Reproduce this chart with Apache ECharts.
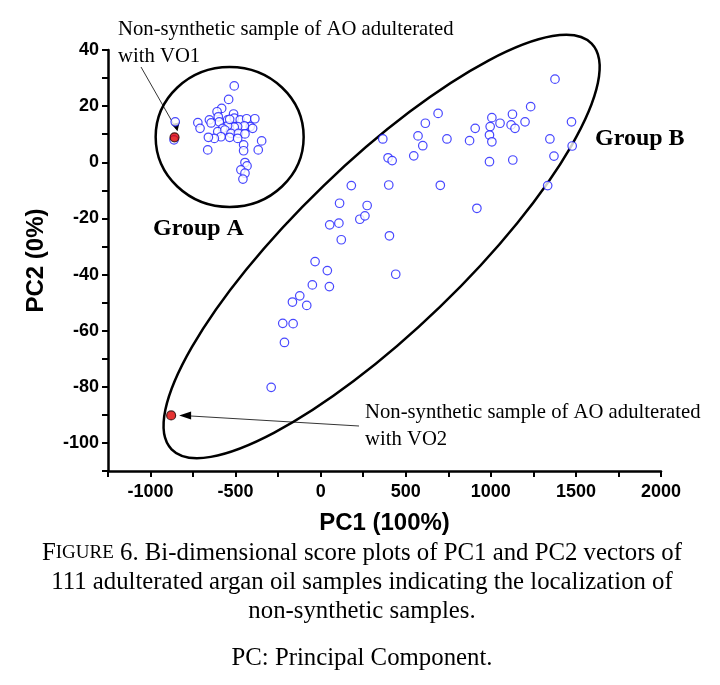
<!DOCTYPE html>
<html><head><meta charset="utf-8">
<script src="https://cdn.jsdelivr.net/npm/echarts@6/dist/echarts.min.js"></script>
<style>html,body{margin:0;padding:0;background:#fff}#c{width:720px;height:685px}</style>
</head><body><div id="c"></div>
<script>
const groupA = [[-855,14.4],[-508,27.2],[-541,22.4],[-582,19.2],[-609,18.0],[-722,14.1],[-709,12.1],[-654,15.1],[-602,16.2],[-596,14.4],[-547,15.1],[-512,17.2],[-508,15.7],[-473,15.1],[-435,15.5],[-387,15.5],[-414,12.7],[-400,12.1],[-449,13.0],[-488,12.7],[-508,12.5],[-547,13.0],[-576,12.1],[-605,10.9],[-563,11.5],[-527,10.3],[-484,10.3],[-445,10.1],[-535,8.9],[-586,9.1],[-625,8.5],[-660,8.9],[-664,4.4],[-488,8.5],[-453,6.2],[-453,4.1],[-347,7.6],[-367,4.4],[-445,-0.1],[-433,-1.3],[-469,-2.7],[-445,-3.9],[-457,-6.0],[-535,15.3],[-644,14.0],[-862,8.0]];
const groupB = [[1377,29.6],[1234,19.8],[1127,17.1],[1006,15.9],[1054,13.9],[1201,14.4],[1119,13.3],[1142,12.1],[996,12.7],[908,12.1],[992,9.7],[1006,7.3],[875,7.7],[742,8.3],[690,17.4],[615,13.9],[572,9.4],[600,5.9],[547,2.3],[365,8.3],[396,1.6],[420,0.6],[1474,14.4],[1347,8.3],[1478,5.8],[1371,2.2],[1129,0.8],[992,0.2],[1334,-8.3],[703,-8.2],[400,-8.1],[180,-8.3],[918,-16.4],[111,-14.6],[273,-15.4],[230,-20.3],[260,-19.1],[107,-21.7],[53,-22.3],[121,-27.6],[404,-26.2],[441,-39.9],[-33,-35.4],[39,-38.6],[-49,-43.7],[51,-44.3],[-123,-47.6],[-166,-49.8],[-82,-51.0],[-223,-57.4],[-162,-57.5],[-213,-64.2],[-291,-80.2]];
const vo1 = [[-859,8.9]];
const vo2 = [[-879,-90.2]];
const xTicks = [-1000,-500,0,500,1000,1500,2000];
const yTicks = [40,20,0,-20,-40,-60,-80,-100];
const ellA = {cx:-535, cy:9};
const ellB = {cx:358, cy:-30};

const serif = '"Liberation Serif","DejaVu Serif",serif';
const sans = '"Liberation Sans",Arial,sans-serif';
const chart = echarts.init(document.getElementById('c'));
const blue = {type:'scatter', symbol:'circle', symbolSize:8.5, itemStyle:{color:'#fff', borderColor:'#1a1aff', borderWidth:1.2}, z:3};
chart.setOption({
  animation:false,
  grid:{left:108, right:59, top:50, bottom:214},
  xAxis:{type:'value', min:-1250, max:2000, interval:250,
    axisLine:{onZero:false, lineStyle:{color:'#000', width:2.5}},
    axisTick:{show:true, length:6, lineStyle:{color:'#000', width:2}},
    axisLabel:{fontFamily:sans, fontWeight:'bold', fontSize:18, color:'#000', margin:12,
      formatter:v=>xTicks.includes(v)?String(v):''},
    splitLine:{show:false},
    name:'PC1 (100%)', nameLocation:'middle', nameGap:40,
    nameTextStyle:{fontFamily:sans, fontWeight:'bold', fontSize:24, color:'#000'}},
  yAxis:{type:'value', min:-110, max:40, interval:10,
    axisLine:{onZero:false, lineStyle:{color:'#000', width:2.5}},
    axisTick:{show:true, length:6, lineStyle:{color:'#000', width:2}},
    axisLabel:{fontFamily:sans, fontWeight:'bold', fontSize:18, color:'#000', margin:9,
      formatter:v=>yTicks.includes(v)?String(v):''},
    splitLine:{show:false},
    name:'PC2 (0%)', nameLocation:'middle', nameGap:60, nameRotate:90,
    nameTextStyle:{fontFamily:sans, fontWeight:'bold', fontSize:24, color:'#000'}},
  series:[
    Object.assign({data:groupA}, blue),
    Object.assign({data:groupB}, blue),
    {type:'scatter', data:vo1.concat(vo2), symbolSize:9, itemStyle:{color:'#e00000', borderColor:'#200000', borderWidth:1.2}, z:4}
  ]
});
const pA = chart.convertToPixel({gridIndex:0}, [ellA.cx, ellA.cy]);
const pB = chart.convertToPixel({gridIndex:0}, [ellB.cx, ellB.cy]);
const p1 = chart.convertToPixel({gridIndex:0}, vo1[0]);
const p2 = chart.convertToPixel({gridIndex:0}, vo2[0]);
const txt = (x,y,t,o)=>({type:'text', x, y, style:Object.assign({text:t, fontFamily:serif, fontSize:20.7, fill:'#000', verticalAlign:'middle'}, o||{})});
const cap = (y,t,o)=>({type:'text', x:362, y, style:Object.assign({text:t, align:'center', verticalAlign:'middle', fontFamily:serif, fontSize:24.8, fill:'#000'}, o||{})});
chart.setOption({graphic:[
  {type:'ellipse', shape:{cx:pA[0], cy:pA[1], rx:74, ry:70}, style:{fill:'none', stroke:'#000', lineWidth:2.5}},
  {type:'ellipse', x:pB[0], y:pB[1], rotation:44*Math.PI/180, shape:{cx:0, cy:0, rx:292, ry:84}, style:{fill:'none', stroke:'#000', lineWidth:2.5}},
  txt(118,30,'Non-synthetic sample of AO adulterated'),
  txt(118,57,'with VO1'),
  {type:'line', shape:{x1:141, y1:67, x2:p1[0]+2, y2:p1[1]-8}, style:{stroke:'#000', lineWidth:0.8}},
  {type:'polygon', shape:{points:[[p1[0]+3,p1[1]-6],[p1[0]-3,p1[1]-13],[p1[0]+5,p1[1]-15]]}, style:{fill:'#000'}},
  txt(365,413,'Non-synthetic sample of AO adulterated'),
  txt(365,440,'with VO2'),
  {type:'line', shape:{x1:359, y1:426, x2:p2[0]+10, y2:p2[1]}, style:{stroke:'#000', lineWidth:0.8}},
  {type:'polygon', shape:{points:[[p2[0]+8,p2[1]],[p2[0]+20,p2[1]-4],[p2[0]+20,p2[1]+4]]}, style:{fill:'#000'}},
  txt(153,229,'Group A',{fontSize:24, fontWeight:'bold'}),
  txt(595,139,'Group B',{fontSize:24, fontWeight:'bold'}),
  cap(553,'{a|F}{b|IGURE} 6. Bi-dimensional score plots of PC1 and PC2 vectors of', {rich:{a:{fontFamily:serif, fontSize:24.8}, b:{fontFamily:serif, fontSize:19}}}),
  cap(582,'111 adulterated argan oil samples indicating the localization of'),
  cap(611,'non-synthetic samples.'),
  cap(658,'PC: Principal Component.')
]});
</script></body></html>
